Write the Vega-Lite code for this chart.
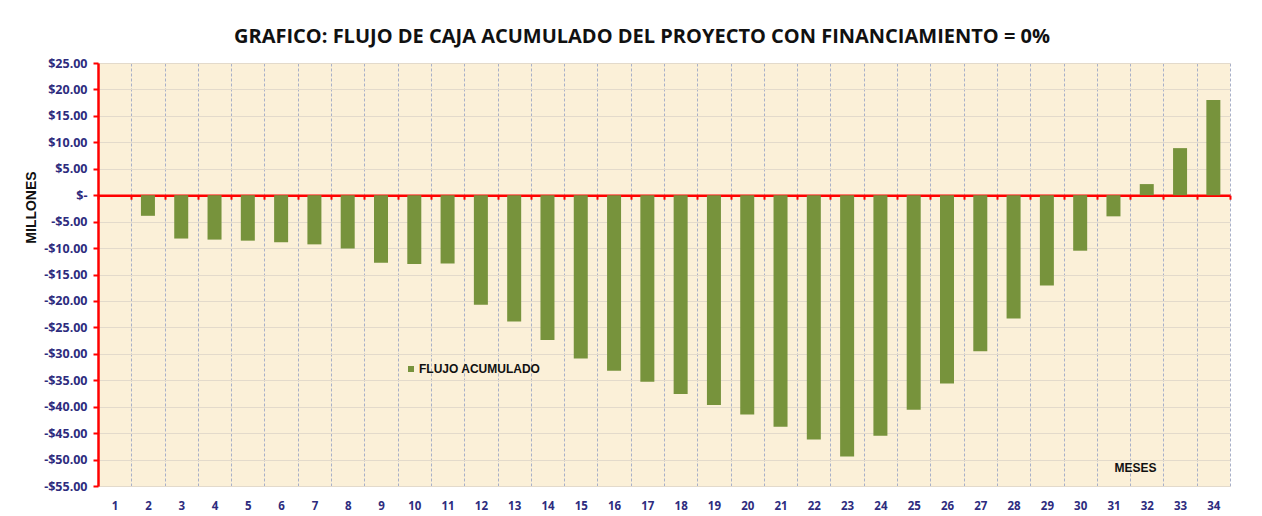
{
  "$schema": "https://vega.github.io/schema/vega-lite/v6.json",
  "width": 1132,
  "height": 423,
  "autosize": {"type": "none"},
  "padding": {"left": 98, "top": 63, "right": 32, "bottom": 30},
  "background": "#FFFFFF",
  "title": {
    "text": "GRAFICO: FLUJO DE CAJA ACUMULADO DEL PROYECTO CON FINANCIAMIENTO = 0%",
    "font": "Open Sans",
    "fontSize": 20,
    "fontWeight": "bold",
    "color": "#111111",
    "frame": "group",
    "baseline": "alphabetic",
    "offset": 20,
    "dx": -22,
    "dy": 26
  },
  "config": {
    "view": {"fill": "#FBF0D8", "stroke": null},
    "font": "Open Sans"
  },
  "data": {
    "values": [
      {"mes": 1, "valor": 0},
      {"mes": 2, "valor": -3.9},
      {"mes": 3, "valor": -8.2},
      {"mes": 4, "valor": -8.4},
      {"mes": 5, "valor": -8.6},
      {"mes": 6, "valor": -8.9},
      {"mes": 7, "valor": -9.3},
      {"mes": 8, "valor": -10.1},
      {"mes": 9, "valor": -12.8},
      {"mes": 10, "valor": -13.0},
      {"mes": 11, "valor": -12.9},
      {"mes": 12, "valor": -20.7},
      {"mes": 13, "valor": -23.9},
      {"mes": 14, "valor": -27.4},
      {"mes": 15, "valor": -30.9},
      {"mes": 16, "valor": -33.2},
      {"mes": 17, "valor": -35.3},
      {"mes": 18, "valor": -37.6},
      {"mes": 19, "valor": -39.7},
      {"mes": 20, "valor": -41.5},
      {"mes": 21, "valor": -43.8},
      {"mes": 22, "valor": -46.2},
      {"mes": 23, "valor": -49.4},
      {"mes": 24, "valor": -45.5},
      {"mes": 25, "valor": -40.6},
      {"mes": 26, "valor": -35.6},
      {"mes": 27, "valor": -29.5},
      {"mes": 28, "valor": -23.3},
      {"mes": 29, "valor": -17.1},
      {"mes": 30, "valor": -10.5},
      {"mes": 31, "valor": -4.0},
      {"mes": 32, "valor": 2.1},
      {"mes": 33, "valor": 8.9},
      {"mes": 34, "valor": 18.0}
    ]
  },
  "mark": {"type": "bar", "size": 14},
  "encoding": {
    "x": {
      "field": "mes",
      "type": "ordinal",
      "scale": {"paddingInner": 0, "paddingOuter": 0},
      "axis": {
        "title": "MESES",
        "titleFont": "Liberation Sans",
        "titleFontSize": 12,
        "titleFontWeight": "bold",
        "titleColor": "#111111",
        "titleX": 1037,
        "titleY": 272,
        "titleAlign": "center",
        "titleBaseline": "middle",
        "labelAngle": 0,
        "labelFont": "Open Sans",
        "labelFontSize": 11.5,
        "labelFontWeight": "bold",
        "labelColor": "#2E2C7E",
        "labelPadding": 301,
        "offset": -290.8,
        "domainColor": "#FF0000",
        "domainWidth": 2.5,
        "tickColor": "#FF0000",
        "tickWidth": 2,
        "tickSize": 4,
        "tickBand": "extent",
        "grid": true,
        "gridColor": "#A8B0C8",
        "gridDash": [3, 2],
        "gridWidth": 1
      }
    },
    "y": {
      "field": "valor",
      "type": "quantitative",
      "scale": {"domain": [-55, 25], "nice": false, "zero": false},
      "axis": {
        "title": "MILLONES",
        "titleFont": "Liberation Sans",
        "titleFontSize": 14,
        "titleFontWeight": "bold",
        "titleColor": "#111111",
        "titleX": -67,
        "titleY": 144,
        "titleAngle": -90,
        "titleAlign": "center",
        "titleBaseline": "middle",
        "values": [25, 20, 15, 10, 5, 0, -5, -10, -15, -20, -25, -30, -35, -40, -45, -50, -55],
        "labelExpr": "datum.value == 0 ? '$-' : (datum.value < 0 ? '-$' : '$') + format(abs(datum.value), '.2f')",
        "labelFont": "Open Sans",
        "labelFontSize": 12.5,
        "labelFontWeight": "bold",
        "labelColor": "#2E2C7E",
        "labelPadding": 6,
        "domainColor": "#FF0000",
        "domainWidth": 2.5,
        "tickColor": "#FF0000",
        "tickWidth": 2,
        "tickSize": 5,
        "grid": true,
        "gridColor": "#E3DACB",
        "gridWidth": 1.2
      }
    },
    "color": {
      "datum": "FLUJO ACUMULADO",
      "scale": {"range": ["#77933C"]},
      "legend": {
        "title": null,
        "orient": "none",
        "legendX": 307,
        "legendY": 300,
        "symbolType": "square",
        "symbolSize": 36,
        "labelFont": "Liberation Sans",
        "labelFontSize": 12,
        "labelFontWeight": "bold",
        "labelColor": "#111111",
        "labelOffset": 2
      }
    }
  }
}
